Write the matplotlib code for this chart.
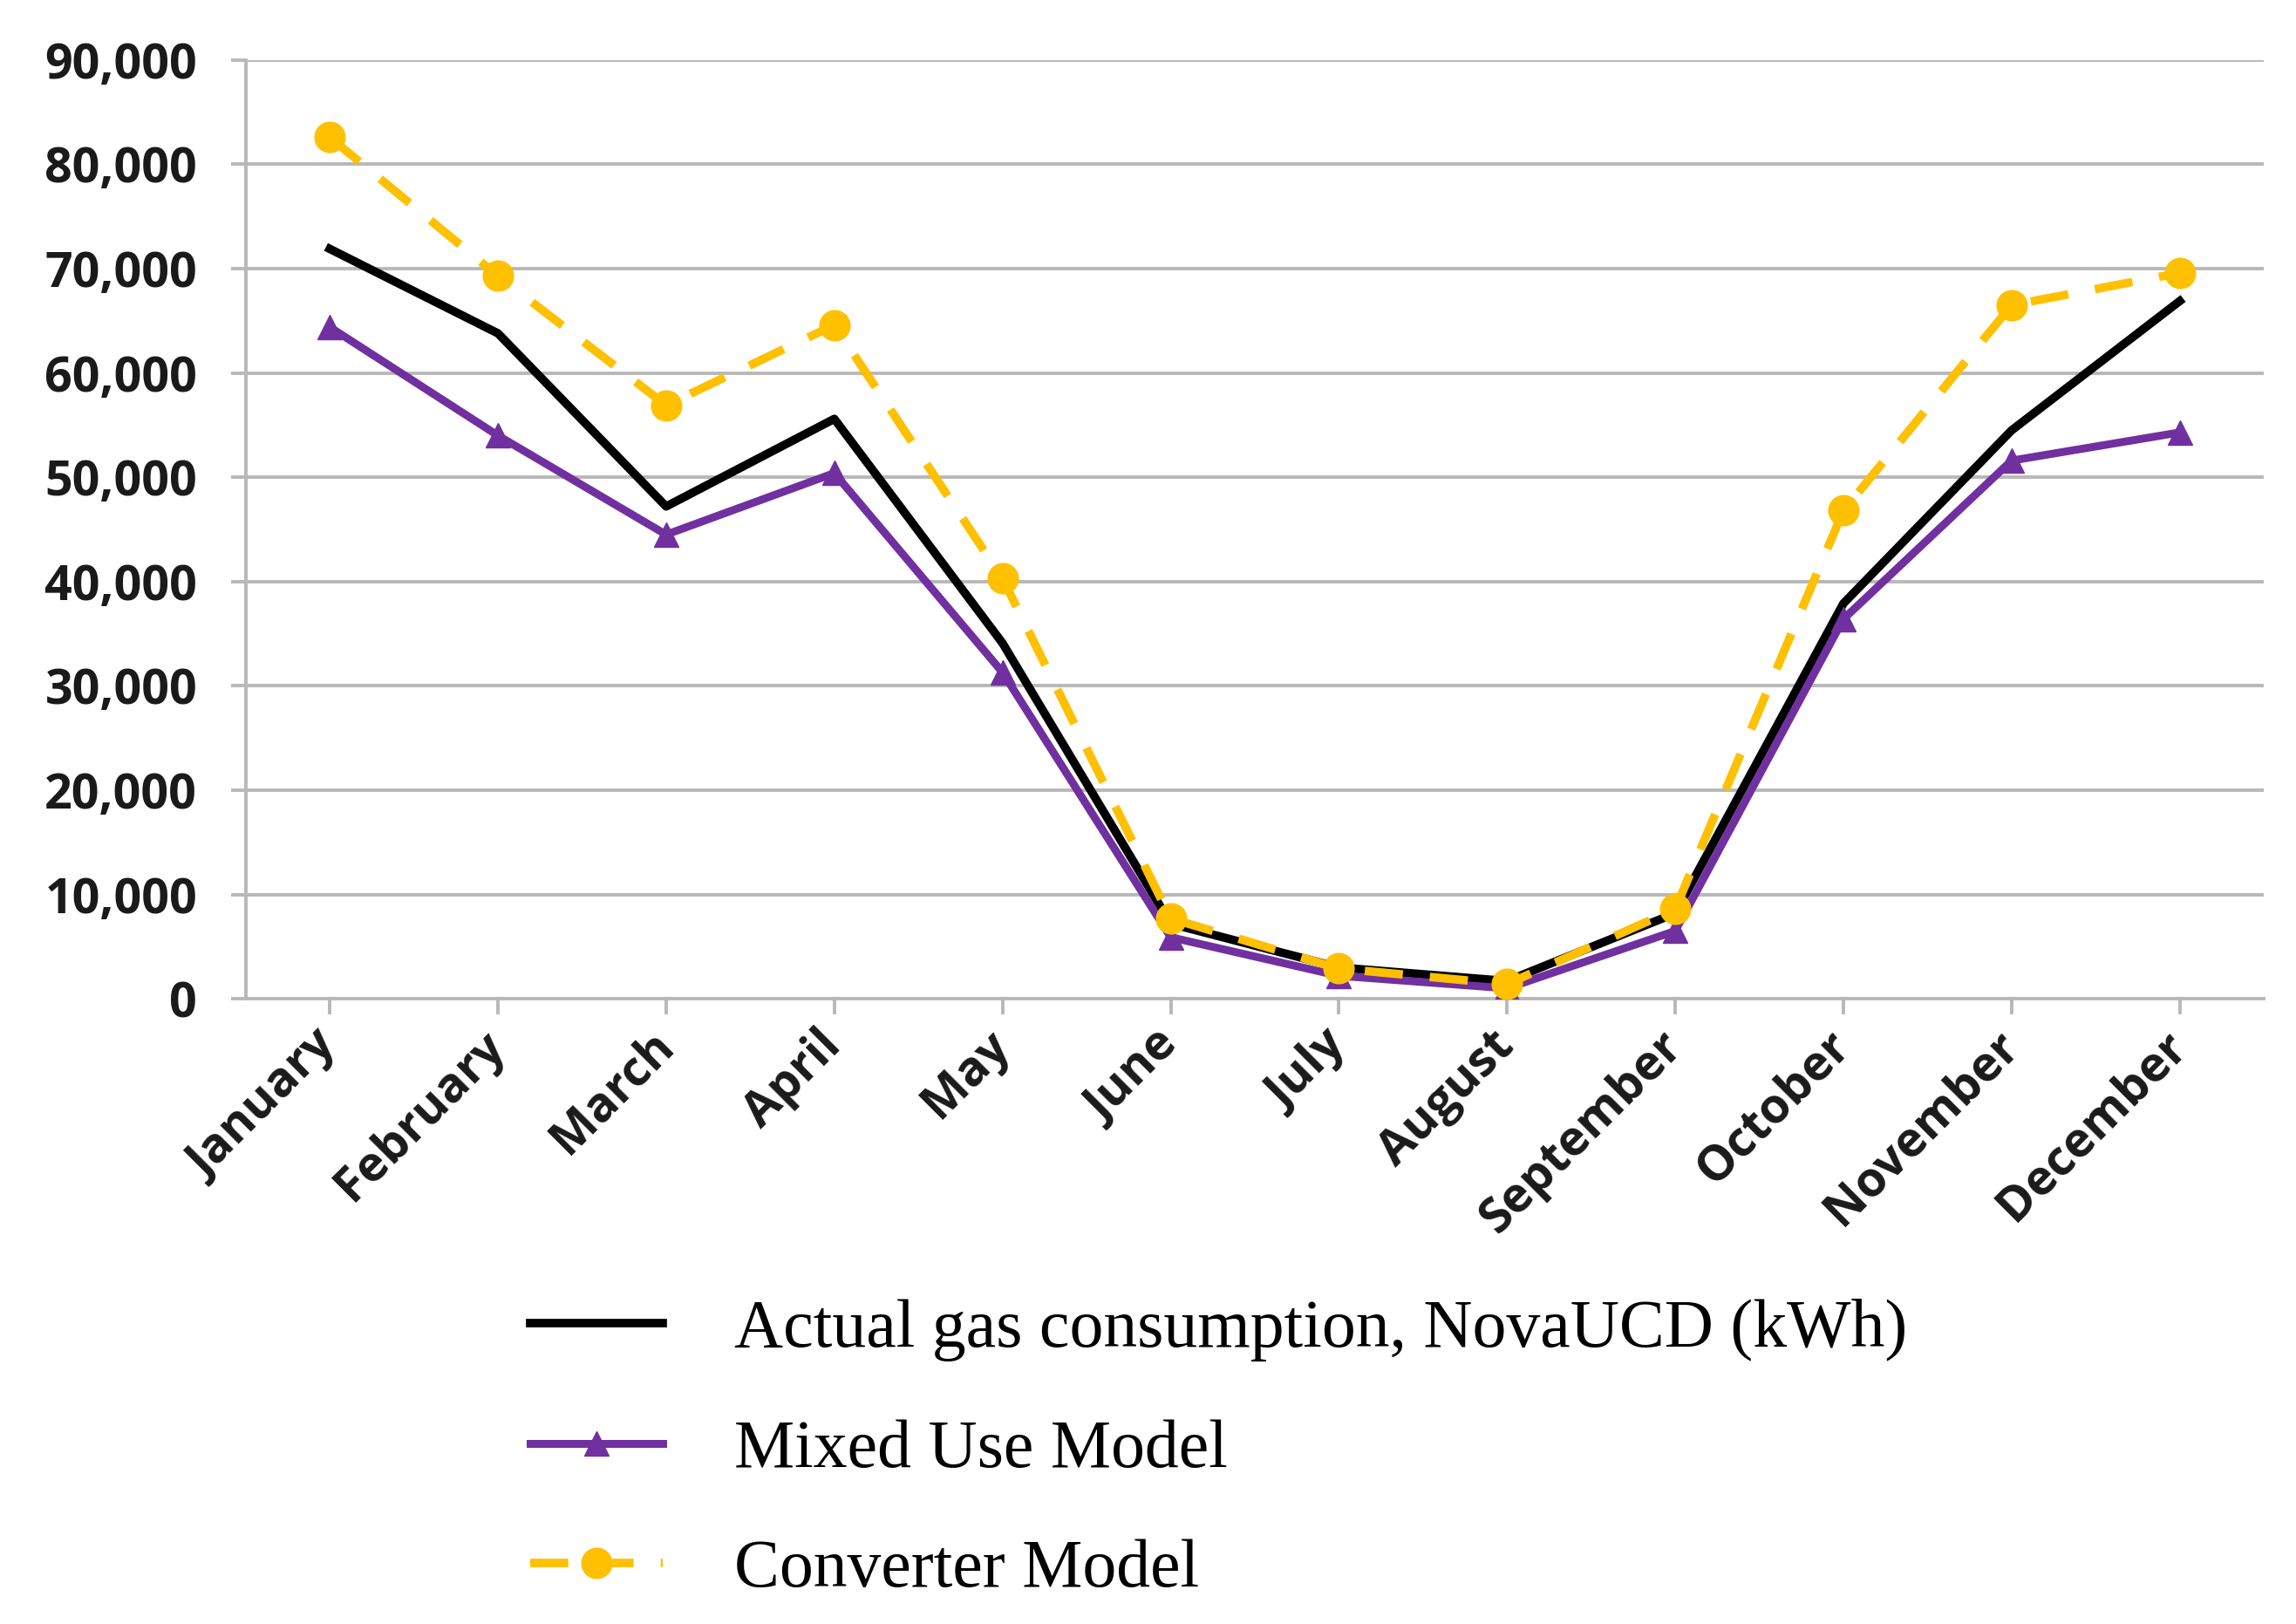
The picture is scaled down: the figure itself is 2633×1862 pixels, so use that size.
#!/usr/bin/env python3
import matplotlib
matplotlib.use('Agg')
import matplotlib.pyplot as plt
from matplotlib.ticker import FuncFormatter

MONTHS = ['January', 'February', 'March', 'April', 'May', 'June', 'July',
          'August', 'September', 'October', 'November', 'December']
# monthly gas use, kWh
ACTUAL = [71900, 63800, 47200, 55600, 34100, 7200, 3000, 1700, 8200, 37900, 54500, 66900]
MIXED_USE = [64400, 54000, 44500, 50400, 31300, 5900, 2200, 1000, 6500, 36400, 51600, 54300]
CONVERTER = [82600, 69300, 56900, 64600, 40300, 7700, 2900, 1400, 8600, 46800, 66500, 69600]
LABELS = ['Actual gas consumption, NovaUCD (kWh)', 'Mixed Use Model', 'Converter Model']

fig = plt.figure(figsize=(26.33, 18.62), dpi=100)
ax = fig.add_axes([0.107, 0.385, 0.879, 0.578])

x = range(len(MONTHS))
ax.plot(x, ACTUAL, color='black', lw=7, label=LABELS[0], zorder=3)
ax.plot(x, MIXED_USE, color='#7030A0', lw=6.5, marker='^', ms=20, label=LABELS[1], zorder=4)
ax.plot(x, CONVERTER, color='#FFC000', lw=7, ls=(0, (4.5, 3.2)), marker='o', ms=25,
        label=LABELS[2], zorder=5)

ax.set_xlim(-0.5, 11.5)
ax.set_ylim(0, 90000)
ax.set_yticks(range(0, 90001, 10000))
ax.yaxis.set_major_formatter(FuncFormatter(lambda v, p: '{:,.0f}'.format(v)))
ax.set_xticks(list(x))
ax.set_xticklabels(MONTHS, rotation=45, ha='right', va='center', rotation_mode='anchor')

ax.grid(axis='y', color='#B8B8B8', lw=2.8, zorder=0)
for s in ['top', 'right']:
    ax.spines[s].set_visible(False)
for s in ['left', 'bottom']:
    ax.spines[s].set_color('#B8B8B8')
    ax.spines[s].set_linewidth(2.8)
ax.tick_params(axis='y', length=12, width=2.8, color='#B8B8B8', pad=28)
ax.tick_params(axis='x', length=13, width=2.8, color='#B8B8B8', pad=20)
for lab in ax.get_xticklabels() + ax.get_yticklabels():
    lab.set_fontfamily('Open Sans')
    lab.set_fontweight('bold')
    lab.set_fontsize(40)
    lab.set_color('#1a1a1a')

leg = ax.legend(loc='center left', bbox_to_anchor=(0.231, 0.107),
                bbox_transform=fig.transFigure, frameon=False,
                prop={'family': 'Liberation Serif', 'size': 56},
                handlelength=1.95, handletextpad=1.05, labelspacing=0.85,
                borderpad=0, borderaxespad=0)

fig.savefig('out.png', dpi=100)
